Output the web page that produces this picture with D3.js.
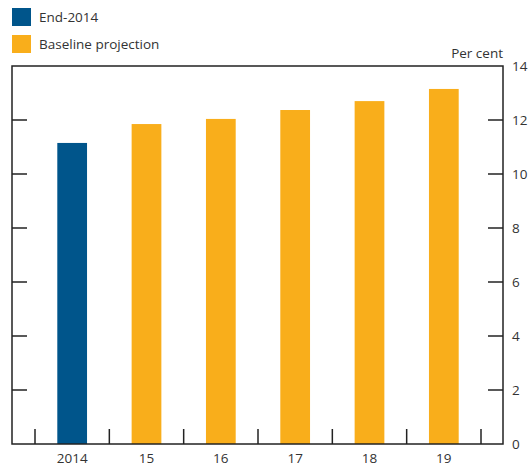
<!DOCTYPE html>
<html><head><meta charset="utf-8">
<script src="https://cdn.jsdelivr.net/npm/d3@7"></script>
<style>body{margin:0;background:#fff;} text{font-family:"Open Sans",sans-serif;fill:#333;}</style>
</head><body>
<svg id="c" width="528" height="467"></svg>
<script>
const categories = ["2014","15","16","17","18","19"];
const values = [11.15, 11.85, 12.04, 12.37, 12.7, 13.15];
const seriesNames = ["End-2014","Baseline projection"];
const seriesOf = [0,1,1,1,1,1];
const colors = ["#00558B","#F9AE1B"];
const yTicks = [0,2,4,6,8,10,12,14];

const svg = d3.select("#c");
const box = {l:12, r:503, t:66, b:444};
const fs = "13.5px";
const x = d3.scaleBand().domain(categories).range([35,481]).paddingInner(0.6).paddingOuter(0.3);
const y = d3.scaleLinear().domain([0,14]).range([box.b, box.t]);

// bars
svg.selectAll("rect.bar").data(categories).enter().append("rect")
  .attr("x", d=>x(d)).attr("width", x.bandwidth())
  .attr("y", (d,i)=>y(values[i])).attr("height", (d,i)=>y(0)-y(values[i]))
  .attr("fill", (d,i)=>colors[seriesOf[i]]);

// frame
svg.append("rect").attr("x",box.l).attr("y",box.t).attr("width",box.r-box.l).attr("height",box.b-box.t)
  .attr("fill","none").attr("stroke","#222").attr("stroke-width",1.5);

// right axis
const yr = svg.append("g").attr("transform",`translate(${box.r},0)`)
  .call(d3.axisRight(y).tickValues(yTicks).tickSize(0).tickPadding(9));
yr.select(".domain").remove();
yr.selectAll("text").style("font-size",fs).attr("fill","#333");
// inward ticks both sides
const inner = yTicks.filter(t=>t>0 && t<14);
svg.selectAll("line.lt").data(inner).enter().append("line")
  .attr("x1",box.l).attr("x2",box.l+15).attr("y1",d=>y(d)).attr("y2",d=>y(d))
  .attr("stroke","#222").attr("stroke-width",1.5);
svg.selectAll("line.rt").data(inner).enter().append("line")
  .attr("x1",box.r-15).attr("x2",box.r).attr("y1",d=>y(d)).attr("y2",d=>y(d))
  .attr("stroke","#222").attr("stroke-width",1.5);

// x axis
const xa = svg.append("g").attr("transform",`translate(0,${box.b})`)
  .call(d3.axisBottom(x).tickSize(0).tickPadding(9));
xa.select(".domain").remove();
xa.selectAll("text").style("font-size",fs).attr("fill","#333");
const bounds = d3.range(categories.length+1).map(i=>35 + i*(446/categories.length));
svg.selectAll("line.xt").data(bounds).enter().append("line")
  .attr("x1",d=>d).attr("x2",d=>d).attr("y1",box.b-15).attr("y2",box.b)
  .attr("stroke","#222").attr("stroke-width",1.5);

// Per cent label
svg.append("text").attr("x",box.r).attr("y",58).attr("text-anchor","end")
  .style("font-size",fs).text("Per cent");

// legend
const lg = svg.selectAll("g.lg").data(seriesNames).enter().append("g")
  .attr("transform",(d,i)=>`translate(12,${8+i*27})`);
lg.append("rect").attr("width",19).attr("height",18).attr("fill",(d,i)=>colors[i]);
lg.append("text").attr("x",27).attr("y",14).style("font-size",fs).text(d=>d);
</script>
</body></html>
